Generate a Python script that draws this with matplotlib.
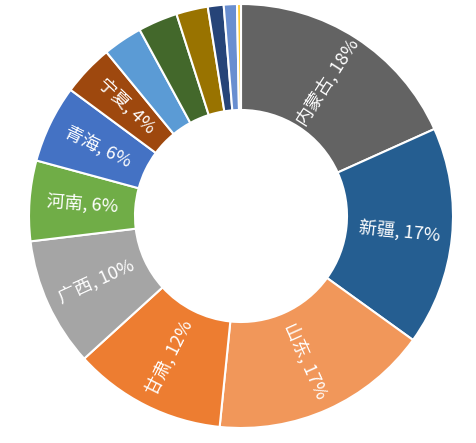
import numpy as np
import matplotlib
matplotlib.use('Agg')
import matplotlib.pyplot as plt

plt.rcParams['font.family'] = ['Noto Sans CJK SC', 'DejaVu Sans']

# share per province (%), clockwise from the top
provinces = ['内蒙古', '新疆', '山东', '甘肃', '广西', '河南', '青海', '宁夏']
values = [18.2, 16.6, 16.6, 11.6, 9.8, 6.1, 5.9, 3.9, 3.0, 3.0, 2.4, 1.2, 1.0, 0.3]
colors = ['#636363', '#255E91', '#F1975A', '#ED7D31', '#A5A5A5', '#70AD47',
          '#4472C4', '#9E480E', '#5B9BD5', '#43682B', '#997300', '#264478',
          '#698ED0', '#FFCD33']

fig = plt.figure(figsize=(4.76, 4.43), dpi=100)
ax = fig.add_axes([29 / 476, 15 / 443, 424 / 476, 424 / 443])

wedges, _ = ax.pie(values, colors=colors, startangle=90, counterclock=False,
                   radius=1.0,
                   wedgeprops=dict(width=0.5, edgecolor='white', linewidth=1.5))

total = sum(values)
for i, name in enumerate(provinces):
    w = wedges[i]
    mid = (w.theta1 + w.theta2) / 2.0
    r = 0.75
    x = r * np.cos(np.radians(mid))
    y = r * np.sin(np.radians(mid))
    rot = (mid + 180) % 360 - 180
    if rot > 90:
        rot -= 180
    elif rot < -90:
        rot += 180
    pct = round(values[i] / total * 100)
    ax.text(x, y, f'{name}, {pct}%', ha='center', va='center', rotation=rot,
            rotation_mode='anchor', color='white', fontsize=13,
            fontweight='light')

ax.set_xlim(-1, 1)
ax.set_ylim(-1, 1)
ax.set_aspect('equal')
ax.axis('off')

fig.savefig('out.png', dpi=100)
